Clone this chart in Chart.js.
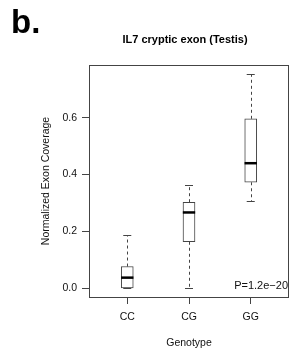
<!DOCTYPE html>
<html lang="en">
<head>
    <meta charset="UTF-8">
    <title>IL7 cryptic exon (Testis)</title>
    <style>
        body {
            margin: 0;
            padding: 0;
            background-color: #ffffff;
        }
    </style>
</head>
<body>
    <canvas id="boxChart" width="290" height="357"></canvas>

    <script src="https://cdn.jsdelivr.net/npm/chart.js"></script>
    <script>
        // Datos
        const genotypes = ['CC', 'CG', 'GG'];
        const positions = [1, 2, 3];
        const whiskerLow = [0.0, 0.0, 0.307];
        const q1 = [0.0, 0.164, 0.373];
        const medians = [0.038, 0.267, 0.440];
        const q3 = [0.077, 0.303, 0.596];
        const whiskerHigh = [0.187, 0.365, 0.753];
        const yTicks = [0.0, 0.2, 0.4, 0.6];
        const pValueText = 'P=1.2e\u221220';

        const lineColor = '#444';
        const textColor = '#111';
        const fontFamily = '"Liberation Sans", Arial, sans-serif';

        // Bigotes, medianas, marco y textos
        const boxExtras = {
            id: 'boxExtras',
            beforeDatasetsDraw(chart) {
                const { ctx, scales: { x, y } } = chart;
                ctx.save();
                ctx.strokeStyle = lineColor;
                ctx.lineWidth = 1;
                positions.forEach((pos, i) => {
                    const cx = Math.round(x.getPixelForValue(pos)) + 0.5;
                    const capL = x.getPixelForValue(pos - 0.065);
                    const capR = x.getPixelForValue(pos + 0.065);
                    // líneas punteadas
                    ctx.setLineDash([3, 3]);
                    ctx.beginPath();
                    ctx.moveTo(cx, y.getPixelForValue(q3[i]));
                    ctx.lineTo(cx, y.getPixelForValue(whiskerHigh[i]));
                    ctx.moveTo(cx, y.getPixelForValue(q1[i]));
                    ctx.lineTo(cx, y.getPixelForValue(whiskerLow[i]));
                    ctx.stroke();
                    // topes
                    ctx.setLineDash([]);
                    ctx.beginPath();
                    const yh = Math.round(y.getPixelForValue(whiskerHigh[i])) + 0.5;
                    const yl = Math.round(y.getPixelForValue(whiskerLow[i])) + 0.5;
                    ctx.moveTo(capL, yh);
                    ctx.lineTo(capR, yh);
                    ctx.moveTo(capL, yl);
                    ctx.lineTo(capR, yl);
                    ctx.stroke();
                });
                ctx.restore();
            },
            afterDatasetsDraw(chart) {
                const { ctx, scales: { x, y } } = chart;
                ctx.save();
                ctx.strokeStyle = '#000';
                ctx.lineWidth = 2.5;
                positions.forEach((pos, i) => {
                    const ym = y.getPixelForValue(medians[i]);
                    ctx.beginPath();
                    ctx.moveTo(x.getPixelForValue(pos - 0.1), ym);
                    ctx.lineTo(x.getPixelForValue(pos + 0.1), ym);
                    ctx.stroke();
                });
                ctx.restore();
            },
            afterDraw(chart) {
                const { ctx, chartArea: a } = chart;
                ctx.save();
                ctx.strokeStyle = lineColor;
                ctx.lineWidth = 1;
                ctx.strokeRect(a.left + 0.5, a.top + 0.5, a.right - a.left - 1, a.bottom - a.top);

                ctx.fillStyle = '#000';
                ctx.textBaseline = 'alphabetic';
                ctx.textAlign = 'left';
                ctx.font = 'bold 33px ' + fontFamily;
                ctx.fillText('b.', 11, 32.5);

                ctx.textAlign = 'center';
                ctx.font = 'bold 11px ' + fontFamily;
                ctx.fillText('IL7 cryptic exon (Testis)', 185, 42.5);

                ctx.fillStyle = textColor;
                ctx.textAlign = 'right';
                ctx.font = '11px ' + fontFamily;
                ctx.fillText(pValueText, a.right - 1, 288.5);
                ctx.restore();
            }
        };

        const ctx = document.getElementById('boxChart').getContext('2d');
        const boxChart = new Chart(ctx, {
            type: 'bar',
            data: {
                datasets: [{
                    label: 'Genotype',
                    data: positions.map((pos, i) => ({ x: pos, y: [q1[i], q3[i]] })),
                    backgroundColor: '#ffffff',
                    borderColor: lineColor,
                    borderWidth: 1,
                    borderSkipped: false,
                    barThickness: 12
                }]
            },
            options: {
                responsive: false,
                animation: false,
                layout: {
                    padding: { top: 65, right: 1, left: 0, bottom: 0 }
                },
                plugins: {
                    legend: { display: false },
                    tooltip: { enabled: false }
                },
                scales: {
                    x: {
                        type: 'linear',
                        offset: false,
                        min: 0.38,
                        max: 3.62,
                        afterBuildTicks: (scale) => {
                            scale.ticks = positions.map(v => ({ value: v }));
                        },
                        afterFit: (scale) => { scale.height = 60; },
                        grid: {
                            display: true,
                            offset: false,
                            drawOnChartArea: false,
                            drawTicks: true,
                            tickLength: 7,
                            color: lineColor
                        },
                        border: { display: false },
                        ticks: {
                            padding: 7,
                            color: textColor,
                            font: { family: fontFamily, size: 10.5 },
                            callback: (value) => genotypes[positions.indexOf(value)]
                        },
                        title: {
                            display: true,
                            text: 'Genotype',
                            color: textColor,
                            font: { family: fontFamily, size: 10.5 },
                            padding: { top: 8, bottom: 8 }
                        }
                    },
                    y: {
                        min: -0.03,
                        max: 0.785,
                        afterBuildTicks: (scale) => {
                            scale.ticks = yTicks.map(v => ({ value: v }));
                        },
                        afterFit: (scale) => { scale.width = 89; },
                        grid: {
                            display: true,
                            drawOnChartArea: false,
                            drawTicks: true,
                            tickLength: 7,
                            color: lineColor
                        },
                        border: { display: false },
                        ticks: {
                            padding: 5,
                            color: textColor,
                            font: { family: fontFamily, size: 10.5 },
                            callback: (value) => value.toFixed(1)
                        },
                        title: {
                            display: true,
                            text: 'Normalized Exon Coverage',
                            color: textColor,
                            font: { family: fontFamily, size: 10.5 },
                            padding: { top: 40, bottom: 0 }
                        }
                    }
                }
            },
            plugins: [boxExtras]
        });
    </script>
</body>
</html>
